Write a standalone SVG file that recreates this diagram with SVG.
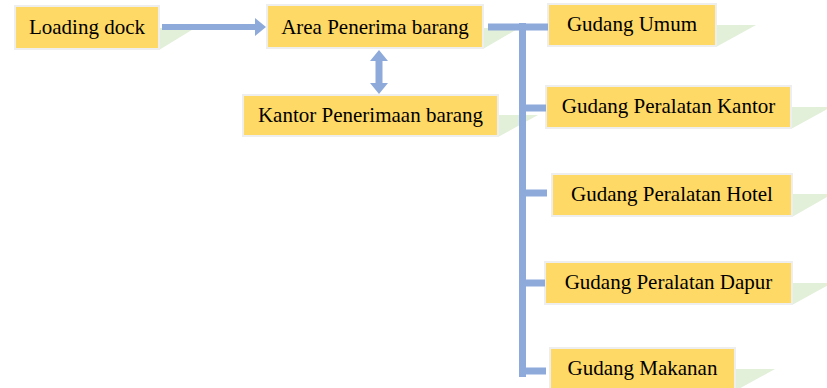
<svg xmlns="http://www.w3.org/2000/svg" width="827" height="388" viewBox="0 0 827 388">
<style>
.box{fill:#ffd966;stroke:#eeeeee;stroke-width:2}
.sh{fill:#e2efd9}
.t{font-family:"Liberation Serif","Times New Roman",serif;font-size:21px;fill:#000;text-anchor:middle}
.ln{fill:none;stroke:#8eaadb;stroke-width:7}
.ar{fill:#8eaadb}
</style>
<g id="loading-dock">
<polygon class="sh" points="40,28 195,28 159,50 40,50"/>
<rect class="box" x="15" y="6" width="144" height="43"/>
<text class="t" x="87" y="34">Loading dock</text>
</g>
<g id="area-penerima">
<polygon class="sh" points="300,28 519,28 483,49 300,49"/>
<rect class="box" x="267" y="5" width="216" height="43"/>
<text class="t" x="375" y="34">Area Penerima barang</text>
</g>
<g id="kantor-penerimaan">
<polygon class="sh" points="280,115 538,115 498,137 280,137"/>
<rect class="box" x="243" y="95" width="255" height="41"/>
<text class="t" x="370.5" y="122">Kantor Penerimaan barang</text>
</g>
<g id="gudang-umum">
<polygon class="sh" points="580,25 756,25 716,47 580,47"/>
<rect class="box" x="548" y="4" width="168" height="42"/>
<text class="t" x="632" y="31">Gudang Umum</text>
</g>
<g id="gudang-kantor">
<polygon class="sh" points="580,107 831,107 791,129 580,129"/>
<rect class="box" x="546" y="86" width="245" height="42"/>
<text class="t" x="668.5" y="113">Gudang Peralatan Kantor</text>
</g>
<g id="gudang-hotel">
<polygon class="sh" points="580,194 832,194 792,217 580,217"/>
<rect class="box" x="552" y="174" width="240" height="42"/>
<text class="t" x="672" y="201">Gudang Peralatan Hotel</text>
</g>
<g id="gudang-dapur">
<polygon class="sh" points="580,283 832,283 792,305 580,305"/>
<rect class="box" x="545" y="262" width="247" height="42"/>
<text class="t" x="668.5" y="289">Gudang Peralatan Dapur</text>
</g>
<g id="gudang-makanan">
<polygon class="sh" points="580,369 775,369 735,391 580,391"/>
<rect class="box" x="550" y="348" width="185" height="42"/>
<text class="t" x="642.5" y="375">Gudang Makanan</text>
</g>
<g id="connectors">
<polygon class="ar" points="162,24 255,24 255,18 266,27 255,36 255,30 162,30"/>
<polygon class="ar" points="379,50 388,61 382.5,61 382.5,83 388,83 379,94 370,83 375.5,83 375.5,61 370,61"/>
<path class="ln" d="M488,27 H523 M522.5,23 V377 M522.5,27 H548 M522.5,108 H546 M522.5,193 H547 M522.5,283 H545 M522.5,371 H546"/>
</g>
</svg>
